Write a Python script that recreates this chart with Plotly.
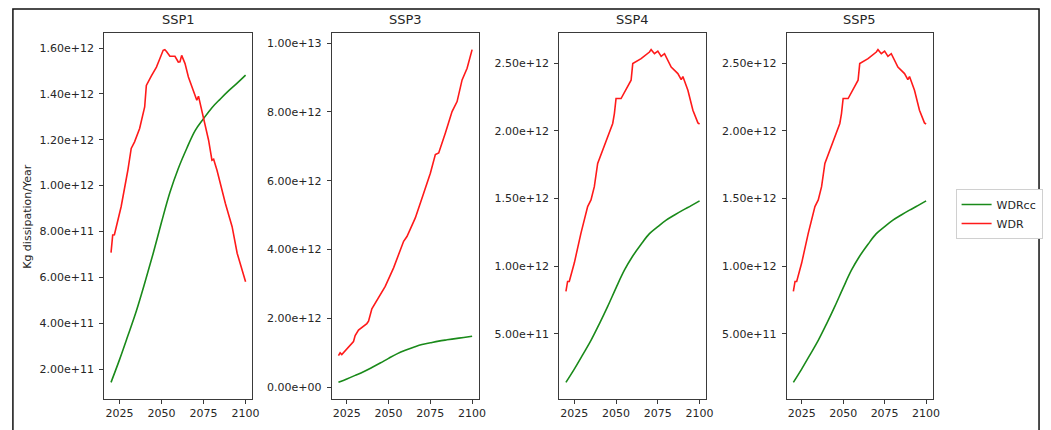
import plotly.graph_objects as go

# ---------------------------------------------------------------------------
# Data: Kg dissipation per year, WDR vs. WDRcc, for four SSP scenarios
# ---------------------------------------------------------------------------
scenarios = ["SSP1", "SSP3", "SSP4", "SSP5"]

# WDRcc is the same trajectory in every scenario
wdrcc_years = [2020, 2025, 2030, 2035, 2040, 2045, 2050, 2055, 2060, 2065,
               2070, 2075, 2080, 2085, 2090, 2095, 2100]
wdrcc = [1.42e11, 2.40e11, 3.45e11, 4.52e11, 5.74e11, 7.03e11, 8.40e11,
         9.70e11, 1.075e12, 1.162e12, 1.240e12, 1.292e12, 1.340e12,
         1.378e12, 1.414e12, 1.447e12, 1.482e12]

wdr_ssp1_years = [2020, 2021, 2022, 2026, 2030, 2032, 2034, 2037, 2040, 2041,
                  2044, 2047, 2049, 2051, 2052, 2053, 2055, 2058, 2060, 2061,
                  2062, 2064, 2066, 2071, 2072, 2074, 2078, 2080, 2081, 2083,
                  2088, 2092, 2095, 2100]
wdr_ssp1 = [7.08e11, 7.85e11, 7.86e11, 9.08e11, 1.067e12, 1.162e12, 1.191e12,
            1.249e12, 1.343e12, 1.437e12, 1.479e12, 1.517e12, 1.553e12,
            1.590e12, 1.593e12, 1.585e12, 1.564e12, 1.564e12, 1.539e12,
            1.540e12, 1.568e12, 1.532e12, 1.474e12, 1.372e12, 1.390e12,
            1.329e12, 1.198e12, 1.111e12, 1.115e12, 1.067e12, 9.22e11,
            8.21e11, 7.05e11, 5.81e11]

wdr_ssp3_years = [2020, 2021, 2022, 2025, 2028, 2029, 2030, 2032, 2037, 2038,
                  2040, 2044, 2048, 2053, 2057, 2059, 2061, 2066, 2071, 2075,
                  2078, 2080, 2084, 2088, 2091, 2094, 2097, 2100]
wdr_ssp3 = [0.92e12, 1.00e12, 0.95e12, 1.11e12, 1.29e12, 1.33e12, 1.50e12,
            1.66e12, 1.85e12, 1.92e12, 2.28e12, 2.60e12, 2.93e12, 3.47e12,
            3.95e12, 4.24e12, 4.38e12, 4.92e12, 5.64e12, 6.22e12, 6.76e12,
            6.81e12, 7.39e12, 8.01e12, 8.30e12, 8.93e12, 9.27e12, 9.81e12]

wdr_ssp4_years = [2020, 2021, 2022, 2025, 2029, 2031, 2033, 2035, 2037, 2039,
                  2043, 2048, 2049, 2050, 2053, 2055, 2059, 2060, 2065, 2070,
                  2071, 2073, 2075, 2077, 2079, 2083, 2087, 2089, 2090, 2093,
                  2096, 2099, 2100]
wdr_ssp4 = [8.14e11, 8.87e11, 8.87e11, 1.023e12, 1.244e12, 1.342e12, 1.440e12,
            1.489e12, 1.587e12, 1.759e12, 1.894e12, 2.054e12, 2.127e12,
            2.238e12, 2.238e12, 2.286e12, 2.373e12, 2.496e12, 2.532e12,
            2.581e12, 2.599e12, 2.569e12, 2.588e12, 2.549e12, 2.569e12,
            2.470e12, 2.422e12, 2.378e12, 2.400e12, 2.299e12, 2.152e12,
            2.058e12, 2.050e12]

# SSP5 follows the SSP4 trajectory
wdr_ssp5_years = list(wdr_ssp4_years)
wdr_ssp5 = list(wdr_ssp4)

wdr_years = [wdr_ssp1_years, wdr_ssp3_years, wdr_ssp4_years, wdr_ssp5_years]
wdr_values = [wdr_ssp1, wdr_ssp3, wdr_ssp4, wdr_ssp5]

# Axis ticks per panel
x_ticks = [2025, 2050, 2075, 2100]
y_ticks = [
    [2e11, 4e11, 6e11, 8e11, 1e12, 1.2e12, 1.4e12, 1.6e12],
    [0, 2e12, 4e12, 6e12, 8e12, 1e13],
    [5e11, 1e12, 1.5e12, 2e12, 2.5e12],
    [5e11, 1e12, 1.5e12, 2e12, 2.5e12],
]
y_tick_text = [
    ["2.00e+11", "4.00e+11", "6.00e+11", "8.00e+11", "1.00e+12", "1.20e+12",
     "1.40e+12", "1.60e+12"],
    ["0.00e+00", "2.00e+12", "4.00e+12", "6.00e+12", "8.00e+12", "1.00e+13"],
    ["5.00e+11", "1.00e+12", "1.50e+12", "2.00e+12", "2.50e+12"],
    ["5.00e+11", "1.00e+12", "1.50e+12", "2.00e+12", "2.50e+12"],
]

# ---------------------------------------------------------------------------
# Layout geometry (pixels on a 1051 x 430 canvas)
# ---------------------------------------------------------------------------
W, H = 1051, 430
panel_px = [(105, 254), (334, 482), (563, 711), (792, 939)]
top_px, bottom_px = 33, 399
x_range = [2016, 2104]


def y_padded(values_lists):
    lo = min(min(v) for v in values_lists)
    hi = max(max(v) for v in values_lists)
    pad = 0.05 * (hi - lo)
    return [lo - pad, hi + pad]


FONT = "DejaVu Sans"
AXIS_COLOR = "#3a3a3a"
TEXT_COLOR = "#262626"
GREEN = "#1a8a1a"
RED = "#ff1a1a"

fig = go.Figure()

for i, name in enumerate(scenarios):
    xa = "x" if i == 0 else f"x{i + 1}"
    ya = "y" if i == 0 else f"y{i + 1}"
    # the WDRcc trajectory is smooth, so it is drawn as a spline
    fig.add_trace(go.Scatter(
        x=wdrcc_years, y=wdrcc, mode="lines", name="WDRcc",
        line=dict(color=GREEN, width=1.6, shape="spline", smoothing=1.0),
        xaxis=xa, yaxis=ya, showlegend=(i == 0), legendgroup="WDRcc"))
    fig.add_trace(go.Scatter(
        x=wdr_years[i], y=wdr_values[i], mode="lines", name="WDR",
        line=dict(color=RED, width=1.6), xaxis=xa, yaxis=ya,
        showlegend=(i == 0), legendgroup="WDR"))

    x0, x1 = panel_px[i]
    axis_common = dict(
        showline=True, linecolor=AXIS_COLOR, linewidth=1, mirror=True,
        showgrid=False, zeroline=False, ticks="outside", ticklen=4,
        tickwidth=1, tickcolor=AXIS_COLOR,
        tickfont=dict(family=FONT, size=11, color=TEXT_COLOR),
    )
    xkey = "xaxis" if i == 0 else f"xaxis{i + 1}"
    ykey = "yaxis" if i == 0 else f"yaxis{i + 1}"
    fig.update_layout({
        xkey: dict(domain=[x0 / W, x1 / W], range=x_range,
                   tickvals=x_ticks, anchor=ya, **axis_common),
        ykey: dict(domain=[1 - bottom_px / H, 1 - top_px / H],
                   range=y_padded([wdrcc, wdr_values[i]]),
                   tickvals=y_ticks[i], ticktext=y_tick_text[i],
                   anchor=xa, ticklabelstandoff=3, **axis_common),
    })
    fig.add_annotation(
        text=name, xref="paper", yref="paper",
        x=(x0 + x1) / 2 / W, y=1 - 20 / H, xanchor="center", yanchor="middle",
        showarrow=False, font=dict(family=FONT, size=13, color=TEXT_COLOR))

fig.add_annotation(
    text="Kg dissipation/Year", xref="paper", yref="paper",
    x=27 / W, y=1 - 216 / H, textangle=-90, xanchor="center",
    yanchor="middle", showarrow=False,
    font=dict(family=FONT, size=11, color=TEXT_COLOR))

# Outer frame around the figure
fig.add_shape(type="rect", xref="paper", yref="paper",
              x0=13 / W, x1=1046 / W, y0=-0.1, y1=1 - 9 / H,
              line=dict(color="#111111", width=1.5), fillcolor="rgba(0,0,0,0)")

fig.update_layout(
    width=W, height=H,
    margin=dict(l=0, r=0, t=0, b=0),
    paper_bgcolor="white", plot_bgcolor="white",
    font=dict(family=FONT, color=TEXT_COLOR),
    legend=dict(x=962 / W, y=1 - 214 / H, xanchor="left", yanchor="middle",
                bordercolor="#d0d0d0", borderwidth=1, bgcolor="white",
                font=dict(family=FONT, size=11, color=TEXT_COLOR),
                itemwidth=30, tracegroupgap=0),
    showlegend=True,
)

fig.write_html("out.html")
